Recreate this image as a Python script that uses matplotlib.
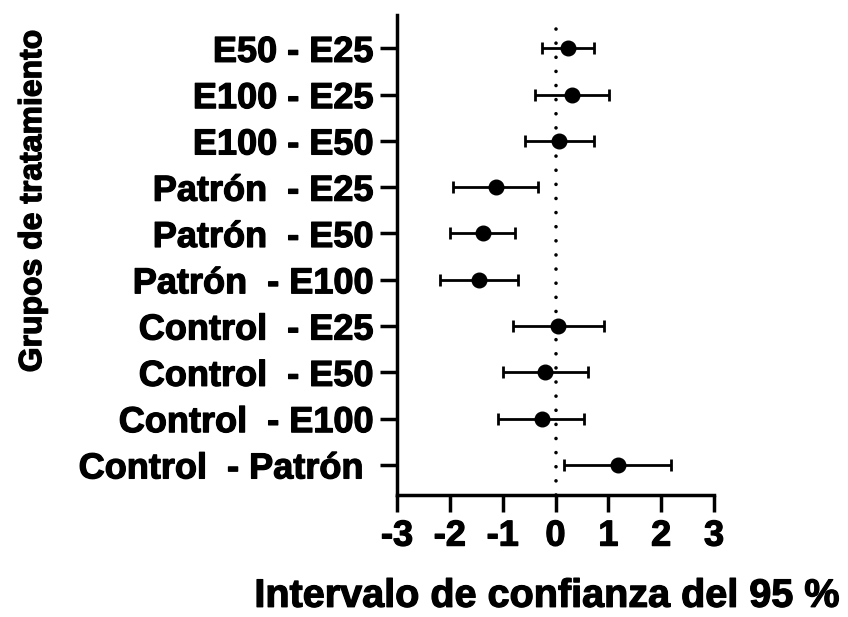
import matplotlib
matplotlib.use("Agg")
import matplotlib.pyplot as plt
import matplotlib.patheffects as pe

plt.rcParams["font.family"] = ["Liberation Sans", "DejaVu Sans"]
plt.rcParams["font.weight"] = "bold"

# pairwise comparisons, listed top to bottom
comparisons = ["E50 - E25", "E100 - E25", "E100 - E50",
               "Patrón  - E25", "Patrón  - E50", "Patrón  - E100",
               "Control  - E25", "Control  - E50", "Control  - E100",
               "Control  - Patrón "]
mean_diff = [0.24, 0.32, 0.07, -1.12, -1.37, -1.45, 0.04, -0.20, -0.26, 1.19]
ci_low = [-0.25, -0.39, -0.57, -1.94, -1.99, -2.19, -0.80, -0.99, -1.09, 0.16]
ci_high = [0.73, 1.01, 0.72, -0.33, -0.76, -0.71, 0.91, 0.61, 0.54, 2.19]
x_ticks = [-3, -2, -1, 0, 1, 2, 3]

rows = list(range(1, len(comparisons) + 1))
err_lo = [m - lo for m, lo in zip(mean_diff, ci_low)]
err_hi = [hi - m for m, hi in zip(mean_diff, ci_high)]

# slightly heavier strokes for the text
heavy = [pe.withStroke(linewidth=0.9, foreground="black")]

fig = plt.figure(figsize=(8.48, 6.17), dpi=100)
ax = fig.add_axes([397 / 848, 1 - 495 / 617, 317 / 848, 480 / 617])

# zero reference line
ax.axvline(0, color="black", lw=2.6, ls=(0, (0.01, 3.9)),
           dash_capstyle="round", zorder=1)

ax.errorbar(mean_diff, rows, xerr=[err_lo, err_hi], fmt="o", color="black",
            ms=10.5, elinewidth=2.0, capsize=4.5, capthick=2.0, zorder=3)

ax.set_xlim(-3, 3)
ax.set_ylim(10.65, 0.28)
ax.set_xticks(x_ticks)
ax.set_xticklabels([str(t) for t in x_ticks])
ax.set_yticks(rows)
ax.set_yticklabels(comparisons)

for s in ["top", "right"]:
    ax.spines[s].set_visible(False)
for s in ["left", "bottom"]:
    ax.spines[s].set_linewidth(2.5)

ax.tick_params(axis="both", length=12, width=2.5, labelsize=26)
ax.tick_params(axis="y", pad=5)
ax.tick_params(axis="x", pad=5)

ax.set_xlabel("Intervalo de confianza del 95 %", fontsize=28.5,
              fontweight="bold", va="center")
ax.xaxis.set_label_coords(0.473, -0.21)
ax.set_ylabel("Grupos de tratamiento", fontsize=23, fontweight="bold",
              va="center", ha="center")
ax.yaxis.set_label_coords(-1.148, 0.6125)

for t in ax.get_xticklabels() + ax.get_yticklabels():
    t.set_path_effects(heavy)
ax.xaxis.label.set_path_effects(heavy)
ax.yaxis.label.set_path_effects(heavy)

fig.savefig("out.png", dpi=100)
